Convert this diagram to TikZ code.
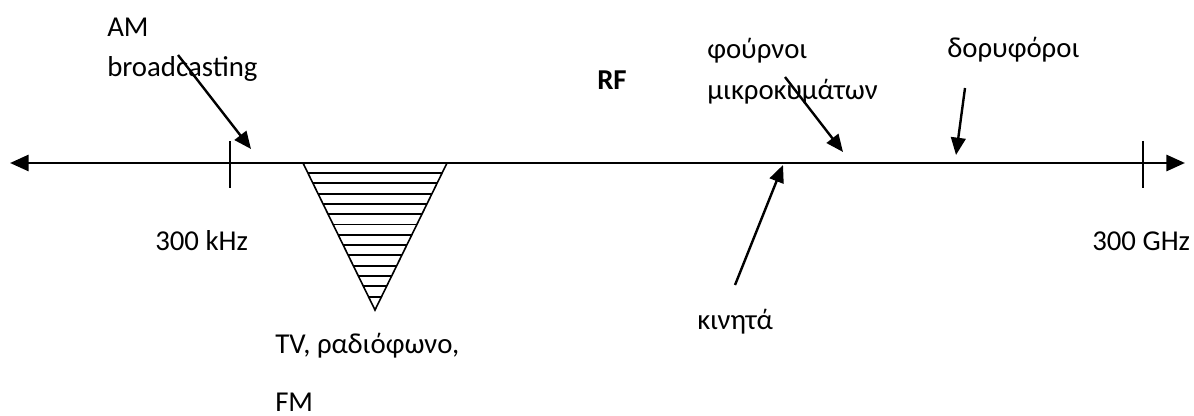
\documentclass[tikz,border=0pt]{standalone}
\usepackage{fontspec}
\setmainfont{Carlito}
\usetikzlibrary{arrows.meta}
\begin{document}
\begin{tikzpicture}[x=0.75pt,y=-0.75pt,
  lbl/.style={anchor=base west,inner sep=0pt,font=\fontsize{21.6}{26}\selectfont},
  axis/.style={line width=2.2pt,{Triangle[length=14pt,width=12pt]}-{Triangle[length=14pt,width=12pt]}},
  tick/.style={line width=1.6pt},
  pointer/.style={line width=1.8pt,-{Triangle[length=13pt,width=11pt]}},
  band/.style={line width=1.2pt},
  hatch/.style={line width=1.4pt}]
\useasboundingbox (0,0) rectangle (1194,416);
% axis
\coordinate (L) at (10,163);
\coordinate (R) at (1185,163);
\draw[axis] (L) -- (R);
\coordinate (t1a) at (230,141); \coordinate (t1b) at (230,188);
\coordinate (t2a) at (1143,141); \coordinate (t2b) at (1143,188);
\draw[tick] (t1a) -- (t1b);
\draw[tick] (t2a) -- (t2b);
% triangle band
\coordinate (A) at (303,163); \coordinate (B) at (447,163); \coordinate (C) at (375,310);
\draw[band] (A) -- (C) -- (B);
\foreach \yy in {173,183.3,...,300} {
  \pgfmathsetmacro{\half}{72*(310-\yy)/147}
  \draw[hatch] ({375-\half},\yy) -- ({375+\half},\yy);
}
% texts
\node[lbl] (am) at (107,37) {AM};
\node[lbl] (bc) at (107,77) {broadcasting};
\node[lbl,font=\fontsize{21.6}{26}\selectfont\bfseries] (rf) at (597,90) {RF};
\node[lbl] (fo) at (707,59) {φούρνοι};
\node[lbl] (mk) at (707,100) {μικροκυμάτων};
\node[lbl] (do) at (947,58) {δορυφόροι};
\node[lbl] (khz) at (155,251) {300 kHz};
\node[lbl] (ghz) at (1092,251) {300 GHz};
\node[lbl] (ki) at (697,329) {κινητά};
\node[lbl] (tv) at (275,353) {TV, ραδιόφωνο,};
\node[lbl] (fm) at (275,411) {FM};
% pointers
\coordinate (p1s) at (178,55); \coordinate (p1e) at (251,149);
\coordinate (p2s) at (785,77); \coordinate (p2e) at (843,152);
\coordinate (p3s) at (965,88); \coordinate (p3e) at (956,155);
\coordinate (p4s) at (735,285); \coordinate (p4e) at (783,165);
\draw[pointer] (p1s) -- (p1e);
\draw[pointer] (p2s) -- (p2e);
\draw[pointer] (p3s) -- (p3e);
\draw[pointer] (p4s) -- (p4e);
\end{tikzpicture}
\end{document}
